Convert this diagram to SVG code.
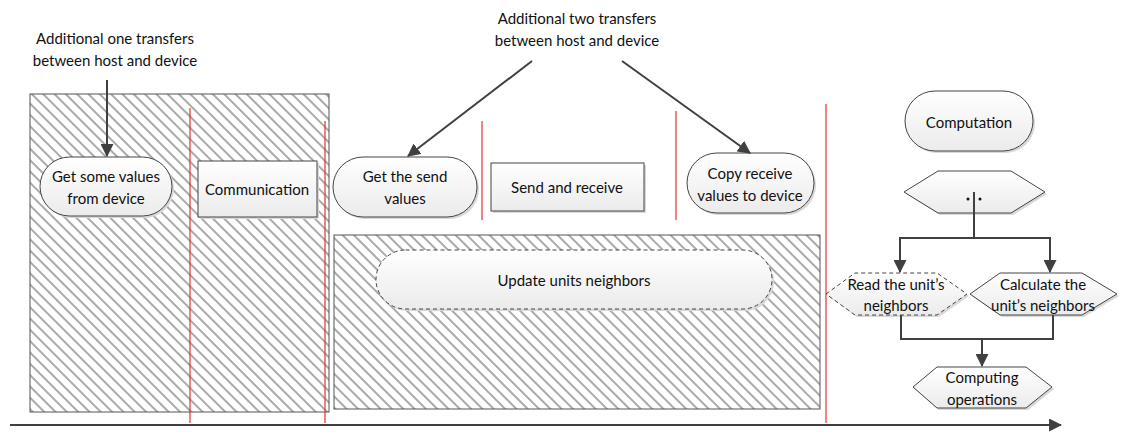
<svg xmlns="http://www.w3.org/2000/svg" width="1123" height="434" viewBox="0 0 1123 434">
  <defs>
    <pattern id="hatch" width="8" height="8" patternUnits="userSpaceOnUse" patternTransform="rotate(45)">
      <rect width="8" height="8" fill="#ffffff"/>
      <line x1="0" y1="4" x2="8" y2="4" stroke="#a0a0a0" stroke-width="1.8"/>
    </pattern>
    <linearGradient id="shade" x1="0" y1="0" x2="0" y2="1">
      <stop offset="0" stop-color="#ffffff"/>
      <stop offset="1" stop-color="#ebebeb"/>
    </linearGradient>
    <marker id="arrowBig" viewBox="0 0 12 12" refX="11" refY="6" markerWidth="13" markerHeight="13" markerUnits="userSpaceOnUse" orient="auto">
      <path d="M0,0 L12,6 L0,12 z" fill="#404040"/>
    </marker>
  </defs>
  <style>
    text { font-family: Lato, "Open Sans", "Liberation Sans", sans-serif; font-size: 15px; fill: #111; text-anchor: middle; dominant-baseline: central; }
    .node { fill: url(#shade); stroke: #444; stroke-width: 1; }
    .dash { stroke-dasharray: 4 3; }
    .shadow { fill: #d8d8d8; stroke: none; }
    .area { fill: url(#hatch); stroke: #555; stroke-width: 1; }
    .red { stroke: #e83030; stroke-width: 1.2; fill: none; }
    .conn { stroke: #404040; stroke-width: 2; fill: none; }
  </style>

  <!-- hatched phase areas -->
  <g id="area-transfer">
    <rect class="area" x="30" y="94" width="299" height="318"/>
  </g>
  <g id="area-update">
    <rect class="area" x="334" y="235" width="486" height="174"/>
  </g>

  <!-- phase separators -->
  <g id="separators">
    <line class="red" x1="190" y1="108" x2="190" y2="423"/>
    <line class="red" x1="325" y1="121" x2="325" y2="423"/>
    <line class="red" x1="482" y1="121" x2="482" y2="220"/>
    <line class="red" x1="676" y1="111" x2="676" y2="220"/>
    <line class="red" x1="826" y1="104" x2="826" y2="423"/>
  </g>

  <!-- annotations -->
  <g id="note-one">
    <text x="115" y="38">Additional one transfers</text>
    <text x="115" y="60">between host and device</text>
  </g>
  <g id="note-two">
    <text x="577" y="18">Additional two transfers</text>
    <text x="577" y="40">between host and device</text>
  </g>

  <!-- nodes -->
  <g id="get-some-values">
    <rect class="shadow" x="42" y="159" width="132" height="59" rx="29.5"/>
    <rect class="node" x="40" y="157" width="132" height="59" rx="29.5"/>
    <text x="106" y="176">Get some values</text>
    <text x="106" y="198">from device</text>
  </g>
  <g id="communication">
    <rect class="shadow" x="200" y="163" width="119" height="56"/>
    <rect class="node" x="198" y="161" width="119" height="56"/>
    <text x="257" y="189">Communication</text>
  </g>
  <g id="get-send-values">
    <rect class="shadow" x="335" y="159" width="144" height="60" rx="30"/>
    <rect class="node" x="333" y="157" width="144" height="60" rx="30"/>
    <text x="405" y="176">Get the send</text>
    <text x="405" y="198">values</text>
  </g>
  <g id="send-receive">
    <rect class="shadow" x="493" y="165" width="153" height="48"/>
    <rect class="node" x="491" y="163" width="153" height="48"/>
    <text x="567" y="187">Send and receive</text>
  </g>
  <g id="copy-receive">
    <rect class="shadow" x="689" y="155" width="127" height="60" rx="30"/>
    <rect class="node" x="687" y="153" width="127" height="60" rx="30"/>
    <text x="750" y="173">Copy receive</text>
    <text x="750" y="195">values to device</text>
  </g>
  <g id="update-neighbors">
    <rect class="shadow" x="378" y="252" width="396" height="59" rx="29.5"/>
    <rect class="node dash" x="376" y="250" width="396" height="59" rx="29.5"/>
    <text x="574" y="280">Update units neighbors</text>
  </g>
  <g id="computation">
    <rect class="shadow" x="907" y="93" width="128" height="60" rx="30"/>
    <rect class="node" x="905" y="91" width="128" height="60" rx="30"/>
    <text x="969" y="122">Computation</text>
  </g>
  <g id="ellipsis-step">
    <polygon class="shadow" points="906,194 940,173 1013,173 1047,194 1013,215 940,215"/>
    <polygon class="node" points="904,192 938,171 1011,171 1045,192 1011,213 938,213"/>
    <circle cx="968" cy="199" r="1.5" fill="#111"/>
    <circle cx="980" cy="199" r="1.5" fill="#111"/>
  </g>
  <g id="read-neighbors">
    <polygon class="shadow" points="828,296 857,275 939,275 969,296 939,317 857,317"/>
    <polygon class="node dash" points="826,294 855,273 937,273 967,294 937,315 855,315"/>
    <text x="896" y="284">Read the unit’s</text>
    <text x="896" y="305">neighbors</text>
  </g>
  <g id="calculate-neighbors">
    <polygon class="shadow" points="972,296 1002,275 1084,275 1119,296 1084,317 1002,317"/>
    <polygon class="node" points="970,294 1000,273 1082,273 1117,294 1082,315 1000,315"/>
    <text x="1043" y="284">Calculate the</text>
    <text x="1043" y="305">unit’s neighbors</text>
  </g>
  <g id="computing-operations">
    <polygon class="shadow" points="915,389 939,369 1028,369 1054,389 1028,410 939,410"/>
    <polygon class="node" points="913,387 937,367 1026,367 1052,387 1026,408 937,408"/>
    <text x="982" y="377">Computing</text>
    <text x="982" y="399">operations</text>
  </g>

  <!-- connectors -->
  <g id="connectors">
    <line class="conn" x1="107" y1="80" x2="107" y2="156" marker-end="url(#arrowBig)"/>
    <line class="conn" x1="532" y1="61" x2="408" y2="156" marker-end="url(#arrowBig)"/>
    <line class="conn" x1="622" y1="61" x2="750" y2="153" marker-end="url(#arrowBig)"/>
    <polyline class="conn" points="974,192 974,238 900,238 900,272" marker-end="url(#arrowBig)"/>
    <polyline class="conn" points="974,238 1050,238 1050,272" marker-end="url(#arrowBig)"/>
    <polyline class="conn" points="901,315 901,339 1053,339 1053,315"/>
    <line class="conn" x1="982" y1="339" x2="982" y2="366" marker-end="url(#arrowBig)"/>
    <line class="conn" x1="10" y1="425" x2="1061" y2="425" marker-end="url(#arrowBig)"/>
  </g>
</svg>
